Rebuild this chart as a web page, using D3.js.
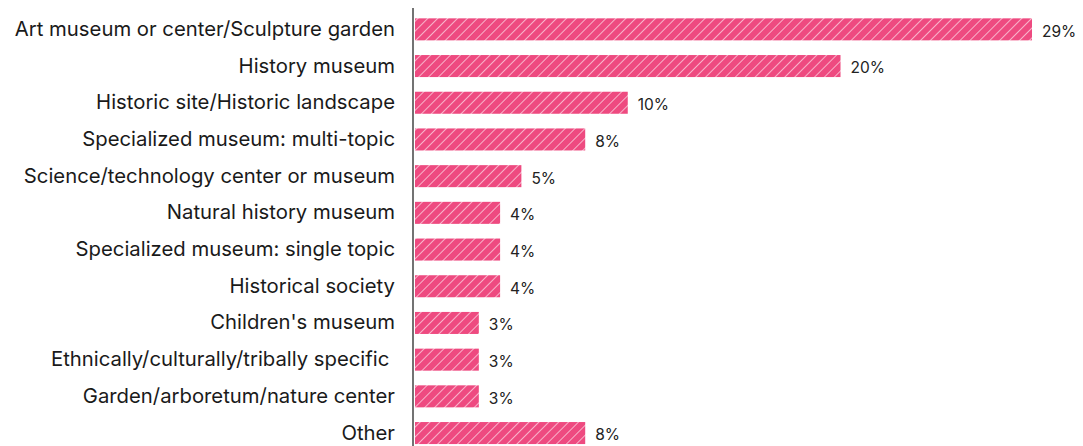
<!DOCTYPE html>
<html>
<head>
<meta charset="utf-8">
<script src="https://cdn.jsdelivr.net/npm/d3@7"></script>
<style>
  body { margin: 0; background: #fff; }
  svg { display: block; }
</style>
</head>
<body>
<script>
const categories = [
  "Art museum or center/Sculpture garden",
  "History museum",
  "Historic site/Historic landscape",
  "Specialized museum: multi-topic",
  "Science/technology center or museum",
  "Natural history museum",
  "Specialized museum: single topic",
  "Historical society",
  "Children's museum",
  "Ethnically/culturally/tribally specific ",
  "Garden/arboretum/nature center",
  "Other"
];
const values = [29, 20, 10, 8, 5, 4, 4, 4, 3, 3, 3, 8];

const W = 1083, H = 446;
const margin = { top: 11, right: 51, bottom: 0, left: 415 };

const svg = d3.select("body").append("svg")
  .attr("width", W).attr("height", H);

// hatch pattern
const defs = svg.append("defs");
const pat = defs.append("pattern")
  .attr("id", "hatch")
  .attr("patternUnits", "userSpaceOnUse")
  .attr("width", 7).attr("height", 7)
  .attr("patternTransform", "rotate(45)");
pat.append("rect").attr("width", 7).attr("height", 7).attr("fill", "#ee4a80");
pat.append("line")
  .attr("x1", 0).attr("y1", 0).attr("x2", 0).attr("y2", 7)
  .attr("stroke", "#fde0ea").attr("stroke-width", 1.4);

const x = d3.scaleLinear().domain([0, 29]).range([margin.left, margin.left + 617]);
const y = d3.scaleBand().domain(categories)
  .range([margin.top, margin.top + 36.7 * 12])
  .paddingInner(0.4).paddingOuter(0.2);

const g = svg.append("g");

g.selectAll(".bar").data(categories).enter()
  .append("rect").attr("class", "bar")
  .attr("x", x(0))
  .attr("y", d => y(d))
  .attr("width", (d, i) => x(values[i]) - x(0))
  .attr("height", y.bandwidth())
  .attr("fill", "url(#hatch)");

g.selectAll(".val").data(categories).enter()
  .append("text").attr("class", "val")
  .attr("x", (d, i) => x(values[i]) + 10)
  .attr("y", d => y(d) + y.bandwidth() / 2 + 2)
  .attr("dy", "0.35em")
  .attr("font-family", "Inter, 'Noto Sans', sans-serif")
  .attr("font-size", 15.5)
  .attr("fill", "#222")
  .text((d, i) => values[i] + "%");

// category axis
const yAxis = d3.axisLeft(y).tickSize(0).tickPadding(18);
const ax = svg.append("g")
  .attr("transform", "translate(" + (margin.left - 2) + ",0)")
  .call(yAxis);
ax.select(".domain")
  .attr("d", "M0," + 8 + "V" + H)
  .attr("stroke", "#444").attr("stroke-width", 1.5);
ax.selectAll("text")
  .attr("font-family", "Inter, 'Noto Sans', sans-serif")
  .attr("font-size", 20.3)
  .attr("fill", "#1a1a1a")
  .style("white-space", "pre");
</script>
</body>
</html>
